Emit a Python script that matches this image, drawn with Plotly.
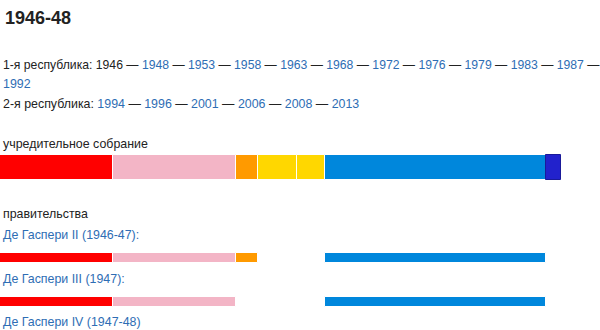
import plotly.graph_objects as go
import numpy as np

# ---- data ----
parties = ["PCI", "PSIUP", "PdA", "UDN", "UQ", "DC", "BNL"]
seats = [106, 115, 20, 37, 26, 207, 14]
colors = ["#FF0000", "#F3B5C6", "#FF9A00", "#FFD700", "#FFD700", "#0087DC", "#2222CC"]
governments = ["Де Гаспери II (1946-47):", "Де Гаспери III (1947):"]
gov_members = [
    ["PCI", "PSIUP", "PdA", "DC"],
    ["PCI", "PSIUP", "DC"],
]
first_rep = ["1948", "1953", "1958", "1963", "1968", "1972", "1976", "1979", "1983", "1987"]
first_rep_wrap = ["1992"]
second_rep = ["1994", "1996", "2001", "2006", "2008", "2013"]

LINK = "#2E6DB4"
TXT = "#222222"
FONT = "Arial, Liberation Sans, sans-serif"

px_per_seat = 561 / 525.0
bases = np.concatenate([[0], np.cumsum(seats)[:-1]])

fig = go.Figure()

# constituent assembly row
asm_y, asm_h = 167, 25
for p, s, b, c in zip(parties, seats, bases, colors):
    line_c = "#1a1a99" if p == "BNL" else "white"
    fig.add_trace(go.Bar(
        orientation="h", y=[asm_y], x=[s], base=[b], width=asm_h,
        marker=dict(color=c, line=dict(color=line_c, width=1)),
        showlegend=False, hoverinfo="skip"))

# government rows
gov_y = [258, 301.5]
gov_h = 10
for gi, members in enumerate(gov_members):
    for p, s, b, c in zip(parties, seats, bases, colors):
        if p in members:
            fig.add_trace(go.Bar(
                orientation="h", y=[gov_y[gi]], x=[s], base=[b], width=gov_h,
                marker=dict(color=c, line=dict(color="white", width=1)),
                showlegend=False, hoverinfo="skip"))

def link(t):
    return f'<span style="color:{LINK}">{t}</span>'

sep = " — "
line1 = "1-я республика: 1946" + sep + sep.join(link(y) for y in first_rep) + " —"
line2 = sep.join(link(y) for y in first_rep_wrap)
line3 = "2-я республика: " + sep.join(link(y) for y in second_rep)

FS = 12.4
texts = [
    ("<b>1946-48</b>", 18, 18, TXT),
    (line1, 65, 12.2, TXT),
    (line2, 84, FS, TXT),
    (line3, 104, FS, TXT),
    ("учредительное собрание", 144, FS, TXT),
    ("правительства", 214, FS, TXT),
    (governments[0], 235, FS, LINK),
    (governments[1], 279, FS, LINK),
    ("Де Гаспери IV (1947-48)", 322, FS, LINK),
]
for t, y, sz, col in texts:
    fig.add_annotation(text=t, x=0, xref="paper", xanchor="left", y=y, yref="y",
                       yanchor="middle", showarrow=False, xshift=1 if sz < 15 else 3,
                       font=dict(family=FONT, size=sz, color=col))

fig.update_layout(
    width=600, height=330, margin=dict(l=0, r=0, t=0, b=0),
    paper_bgcolor="white", plot_bgcolor="white", barmode="overlay", bargap=0,
    xaxis=dict(range=[0, 600 / px_per_seat], visible=False, fixedrange=True),
    yaxis=dict(range=[330, 0], visible=False, fixedrange=True),
)
fig.write_html("out.html")
